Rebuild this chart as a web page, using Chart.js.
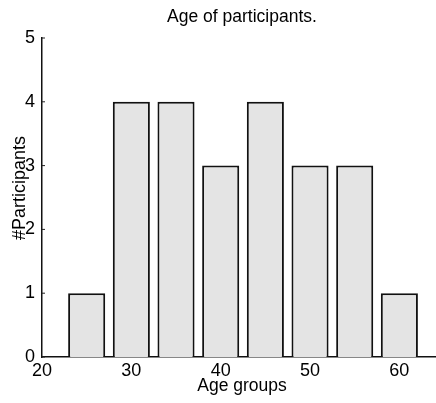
<!DOCTYPE html>
<html>
<head>
<meta charset="utf-8">
<script src="https://cdn.jsdelivr.net/npm/chart.js@4"></script>
<style>
  body { margin: 0; background: #fff; }
  .chart-container { width: 436px; height: 403px; }
</style>
</head>
<body>
<div class="chart-container"><canvas id="chart"></canvas></div>
<script>
const ageCenters = [25, 30, 35, 40, 45, 50, 55, 60];
const participants = [1, 4, 4, 3, 4, 3, 3, 1];
const xTicks = [20, 30, 40, 50, 60];
const yTicks = [0, 1, 2, 3, 4, 5];

const FONT = '"Liberation Sans", Arial, sans-serif';

// title and axis titles drawn by hand so they sit where the scan has them
const labelsPlugin = {
  id: 'labels',
  afterDraw(chart) {
    const ctx = chart.ctx;
    const y = chart.scales.y;
    ctx.save();
    ctx.fillStyle = '#000';
    ctx.textAlign = 'center';
    ctx.textBaseline = 'middle';
    ctx.font = '17.5px ' + FONT;
    ctx.fillText('Age of participants.', 242, 17);
    ctx.fillText('Age groups', 242, 386);
    ctx.translate(20, 188);
    ctx.rotate(-Math.PI / 2);
    ctx.font = '18px ' + FONT;
    ctx.fillText('#Participants', 0, 0);
    ctx.restore();

    // small inward tick marks on the y axis
    ctx.save();
    ctx.strokeStyle = '#222';
    ctx.lineWidth = 1;
    yTicks.forEach(v => {
      const py = y.getPixelForValue(v);
      ctx.beginPath();
      ctx.moveTo(chart.chartArea.left, py);
      ctx.lineTo(chart.chartArea.left + 3, py);
      ctx.stroke();
    });
    ctx.restore();
  }
};

new Chart(document.getElementById('chart'), {
  type: 'bar',
  data: {
    datasets: [{
      data: ageCenters.map((x, i) => ({ x: x, y: participants[i] })),
      backgroundColor: '#e4e4e4',
      borderColor: '#111',
      borderWidth: 2,
      barPercentage: 0.83,
      categoryPercentage: 1,
    }],
  },
  options: {
    responsive: true,
    maintainAspectRatio: false,
    animation: false,
    layout: { padding: { top: 38, left: 0, right: 0, bottom: 0 } },
    plugins: {
      legend: { display: false },
      tooltip: { enabled: false },
    },
    scales: {
      x: {
        type: 'linear',
        min: 20,
        max: 64.1,
        offset: false,
        z: 1,
        afterBuildTicks: (scale) => { scale.ticks = xTicks.map(v => ({ value: v })); },
        afterFit: (scale) => { scale.height = 46; },
        grid: { display: false, drawTicks: false },
        border: { display: true, color: '#111', width: 1.5 },
        ticks: { color: '#000', padding: 3, font: { family: FONT, size: 18 } },
      },
      y: {
        min: 0,
        max: 5,
        z: 1,
        afterBuildTicks: (scale) => { scale.ticks = yTicks.map(v => ({ value: v })); },
        afterFit: (scale) => { scale.width = 42; },
        grid: { display: false, drawTicks: false },
        border: { display: true, color: '#111', width: 1.5 },
        ticks: { color: '#000', padding: 7, font: { family: FONT, size: 18 } },
      },
    },
  },
  plugins: [labelsPlugin],
});
</script>
</body>
</html>
